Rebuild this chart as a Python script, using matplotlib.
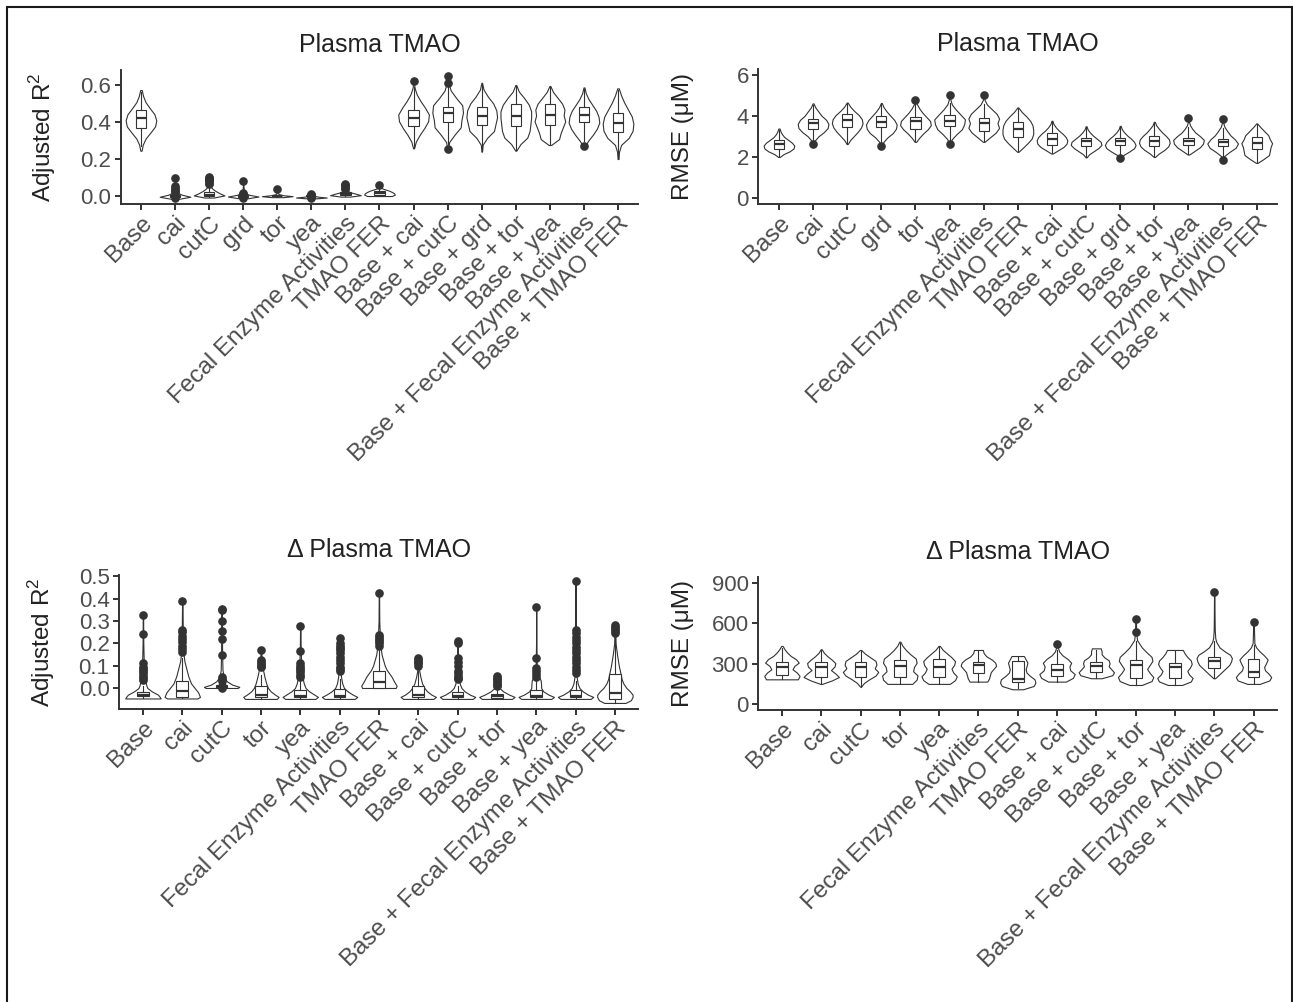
import numpy as np
import matplotlib
matplotlib.use("Agg")
import matplotlib.pyplot as plt
from matplotlib.patches import Rectangle

plt.rcParams['font.family'] = ['Liberation Sans', 'DejaVu Sans']
plt.rcParams['mathtext.fontset'] = 'custom'
plt.rcParams['mathtext.rm'] = 'Liberation Sans'

top_cats = ["Base", "cai", "cutC", "grd", "tor", "yea", "Fecal Enzyme Activities", "TMAO FER",
            "Base + cai", "Base + cutC", "Base + grd", "Base + tor", "Base + yea",
            "Base + Fecal Enzyme Activities", "Base + TMAO FER"]
bot_cats = ["Base", "cai", "cutC", "tor", "yea", "Fecal Enzyme Activities", "TMAO FER",
            "Base + cai", "Base + cutC", "Base + tor", "Base + yea",
            "Base + Fecal Enzyme Activities", "Base + TMAO FER"]

# box stats: (lower whisker, q1, median, q3, upper whisker)
# violins: ((min, max), density profile) or ([values], density profile)

# ---- Plasma TMAO, adjusted R2
tmao_r2_box = [
    (.27, .37, .42, .465, .56), (-.01, -.004, 0.0, .004, .012), (-.005, 0.0, .006, .022, .055),
    (-.008, -.003, 0.0, .003, .01), (-.004, -.002, 0.0, .002, .005), (-.005, -.002, 0.0, .002, .004),
    (0.0, .004, .01, .02, .035), (0.0, .006, .015, .027, .045), (.26, .378, .42, .465, .59),
    (.28, .398, .45, .483, .60), (.245, .384, .434, .483, .605), (.25, .38, .434, .495, .595),
    (.28, .384, .438, .495, .59), (.30, .40, .438, .483, .58), (.21, .348, .396, .447, .575)]
tmao_r2_violin = [
    ((.245, .573), [.04, .12, .3, .62, .92, 1.0, .88, .58, .3, .14, .05]),
    ((-.015, .096), [.25, 1.0, .45, .15, .07, .05, .04, .03, .02, .015, .01]),
    ((-.008, .105), [.3, 1.0, .7, .45, .25, .12, .06, .04, .03, .02, .01]),
    ((-.012, .081), [.3, 1.0, .4, .12, .06, .04, .03, .02, .015, .01, .01]),
    ((-.006, .036), [.4, 1.0, .4, .12, .05, .03, .02, .02, .015]),
    ((-.012, .012), [.4, 1.0, .5, .2, .08, .04, .02]),
    ((-.003, .065), [.3, 1.0, .7, .35, .15, .08, .05, .03, .02, .01]),
    ((0.0, .06), [.8, 1.0, .95, .8, .6, .3, .08, .03, .02]),
    ((.258, .623), [.03, .15, .4, .7, .95, 1.0, .75, .45, .2, .06, .02]),
    ((.252, .65), [.02, .1, .45, .85, .9, 1.0, .95, .55, .2, .06, .02]),
    ((.24, .612), [.02, .06, .35, .8, .9, 1.0, .95, .75, .4, .12, .02]),
    ((.245, .60), [.03, .3, .75, .9, .95, 1.0, 1.0, .85, .55, .2, .03]),
    ((.276, .595), [.08, .6, .7, .85, 1.0, .9, .95, .8, .5, .2, .03]),
    ((.27, .587), [.05, .3, .6, .85, 1.0, .95, .8, .55, .3, .12, .03]),
    ((.20, .582), [.03, .06, .2, .7, .95, 1.0, .9, .65, .4, .2, .05])]
tmao_r2_out = [
    [], [.096, .055, .045, .035, .025, .015, -.01], [.105, .099, .093, .087, .08, .073, .066],
    [.081, .015, .01, .005, -.01], [.036], [.012, .008, .004, -.007, -.01],
    [.065, .058, .052, .046, .04], [.06], [.623], [.65, .612, .252], [], [], [], [.27], []]

# ---- Plasma TMAO, RMSE
tmao_rmse_box = [
    (2.05, 2.41, 2.62, 2.82, 3.3), (2.8, 3.39, 3.64, 3.85, 4.55), (2.65, 3.47, 3.8, 4.08, 4.65),
    (2.75, 3.47, 3.72, 4.01, 4.6), (2.76, 3.39, 3.75, 3.96, 4.6), (2.85, 3.5, 3.77, 4.04, 4.65),
    (2.76, 3.28, 3.64, 3.93, 4.6), (2.3, 2.98, 3.36, 3.72, 4.4), (2.2, 2.58, 2.86, 3.15, 3.7),
    (2.0, 2.53, 2.77, 2.95, 3.45), (2.1, 2.58, 2.77, 2.95, 3.45), (2.02, 2.53, 2.79, 3.02, 3.65),
    (2.14, 2.58, 2.77, 2.95, 3.45), (2.05, 2.53, 2.74, 2.9, 3.4), (1.75, 2.37, 2.66, 2.98, 3.6)]
tmao_rmse_violin = [
    ((2.0, 3.39), [.05, .3, .7, .95, 1.0, .85, .6, .35, .2, .1, .04]),
    ((2.61, 4.62), [.03, .12, .35, .7, .95, 1.0, .85, .55, .35, .15, .03]),
    ((2.63, 4.66), [.03, .2, .45, .7, .9, 1.0, .95, .75, .45, .2, .03]),
    ((2.54, 4.64), [.02, .15, .4, .75, .95, 1.0, .85, .6, .35, .15, .03]),
    ((2.74, 4.78), [.05, .25, .5, .8, 1.0, .95, .7, .45, .25, .1, .02]),
    ((2.63, 5.05), [.02, .15, .45, .8, .95, 1.0, .7, .4, .15, .05, .02]),
    ((2.74, 5.02), [.05, .4, .75, .95, .85, .95, .8, .5, .2, .05, .02]),
    ((2.25, 4.42), [.04, .35, .65, .9, 1.0, 1.0, .95, .8, .55, .25, .03]),
    ((2.17, 3.77), [.05, .4, .75, .95, 1.0, .9, .7, .45, .25, .1, .03]),
    ((1.98, 3.5), [.03, .2, .5, .8, 1.0, .95, .7, .45, .25, .1, .03]),
    ((1.96, 3.52), [.02, .25, .6, .9, 1.0, .9, .7, .45, .25, .1, .03]),
    ((2.0, 3.72), [.04, .3, .65, .9, 1.0, .95, .75, .5, .3, .12, .03]),
    ((2.12, 3.91), [.05, .4, .75, .95, 1.0, .75, .45, .25, .1, .03, .02]),
    ((1.84, 3.88), [.02, .1, .45, .85, 1.0, .8, .5, .3, .12, .04, .02]),
    ((1.71, 3.64), [.05, .45, .8, .85, .9, 1.0, .85, .75, .5, .25, .03])]
tmao_rmse_out = [
    [], [2.61], [], [2.54], [4.78], [5.05, 2.63], [5.02], [], [], [], [1.96], [],
    [3.91], [3.88, 1.84], []]

# ---- Delta plasma TMAO, adjusted R2
delta_r2_box = [
    (-.047, -.038, -.03, -.018, .007), (-.047, -.042, -.015, .03, .135), (0.0, 0.0, .004, .012, .03),
    (-.049, -.042, -.03, .007, .06), (-.049, -.042, -.036, -.008, .03), (-.049, -.042, -.038, -.005, .04),
    (0.0, 0.0, .025, .075, .185), (-.049, -.042, -.03, .007, .075), (-.049, -.042, -.038, -.02, .01),
    (-.049, -.045, -.038, -.027, 0.0), (-.049, -.042, -.038, -.011, .03), (-.049, -.042, -.038, -.011, .03),
    (-.067, -.049, -.024, .063, .23)]
delta_r2_violin = [
    ([-.047, -.04, -.03, -.015, 0.0, .01, .04, .1, .2, .329], [1.0, .95, .85, .5, .25, .2, .1, .05, .02, .01]),
    ([-.047, -.04, -.02, 0.0, .02, .05, .08, .12, .16, .25, .388], [.85, 1.0, .9, .7, .5, .35, .25, .12, .06, .03, .01]),
    ([0.0, .005, .015, .03, .05, .08, .15, .25, .355], [.9, 1.0, .6, .3, .12, .05, .03, .02, .01]),
    ([-.049, -.04, -.03, -.015, 0.0, .02, .05, .08, .12, .172], [.9, 1.0, .8, .55, .4, .3, .2, .12, .05, .01]),
    ([-.049, -.04, -.03, -.015, 0.0, .02, .05, .1, .2, .276], [.85, 1.0, .8, .5, .3, .2, .12, .05, .02, .01]),
    ([-.049, -.04, -.03, -.015, 0.0, .02, .05, .1, .224], [.85, 1.0, .75, .45, .25, .15, .08, .04, .01]),
    ([0.0, .01, .03, .05, .08, .1, .15, .2, .3, .426], [.95, 1.0, .85, .72, .45, .33, .15, .07, .02, .01]),
    ([-.049, -.04, -.03, -.015, 0.0, .02, .05, .08, .134], [.85, 1.0, .75, .5, .35, .22, .12, .05, .01]),
    ([-.049, -.04, -.03, -.015, 0.0, .02, .05, .1, .209], [.85, 1.0, .7, .4, .22, .12, .06, .03, .01]),
    ([-.049, -.04, -.03, -.015, 0.0, .02, .052], [.85, 1.0, .7, .35, .15, .06, .02]),
    ([-.049, -.04, -.03, -.015, 0.0, .02, .035, .06, .1, .2, .363], [.85, 1.0, .7, .4, .28, .27, .25, .08, .03, .01, .01]),
    ([-.049, -.04, -.03, -.015, 0.0, .02, .05, .1, .2, .478], [.85, 1.0, .7, .4, .22, .12, .06, .03, .015, .01]),
    ([-.067, -.055, -.04, -.03, -.015, 0.0, .02, .04, .06, .1, .15, .2, .284],
     [.6, .9, 1.0, 1.0, .85, .65, .48, .38, .33, .22, .12, .04, .01])]
delta_r2_out = [
    [.329, .243, .112, .095, .085, .075, .065, .055, .045, .037],
    [.388, .26, .25, .235, .22, .205, .19, .175, .16],
    [.355, .35, .299, .254, .221, .146, .05, .04, .03, .01, 0.0],
    [.172, .125, .115, .108, .1, .092],
    [.276, .164, .112, .1, .09, .08, .07, .06, .05],
    [.224, .203, .19, .18, .17, .155, .14, .125, .11, .095, .085, .075],
    [.426, .239, .23, .22, .21, .2, .19],
    [.134, .125, .118, .11, .1],
    [.209, .2, .134, .115, .097, .075, .065, .055, .045, .038],
    [.052, .045, .038, .03, .022, .015, .008],
    [.363, .134, .09, .075, .063, .05],
    [.478, .261, .245, .23, .215, .2, .185, .17, .155, .14, .125, .11, .095, .08, .067],
    [.284, .275, .265, .255, .245]]

# ---- Delta plasma TMAO, RMSE
delta_rmse_box = [
    (183, 215, 277, 314, 413), (149, 203, 277, 314, 400), (129, 198, 277, 314, 395),
    (149, 203, 282, 327, 455), (149, 198, 277, 332, 425), (166, 228, 290, 314, 395),
    (117, 166, 183, 322, 356), (166, 208, 252, 297, 400), (191, 240, 282, 314, 400),
    (141, 191, 290, 327, 470), (141, 191, 272, 307, 395), (191, 265, 322, 351, 470),
    (149, 203, 240, 334, 440)]
delta_rmse_violin = [
    ((183, 431), [.9, 1.0, .85, .6, .7, .95, .8, .5, .3, .15, .04]),
    ((149, 406), [.05, .6, 1.0, .8, .55, .75, .8, .6, .35, .15, .03]),
    ((129, 401), [.03, .2, .5, .85, 1.0, .8, .9, .85, .55, .25, .04]),
    ((149, 463), [.7, .95, 1.0, .75, .8, .95, .9, .6, .35, .15, .03]),
    ((149, 431), [.6, .9, 1.0, .8, .7, .85, .9, .7, .45, .2, .04]),
    ((166, 401), [.5, .6, .65, .7, .85, 1.0, .95, .75, .45, .3, .25]),
    ((109, 356), [.3, .9, 1.0, .95, .7, .5, .45, .5, .55, .45, .35]),
    ((166, 446), [.5, .9, 1.0, .75, .7, .8, .6, .3, .12, .05, .02]),
    ((191, 413), [.3, .9, 1.0, .85, .7, .75, .7, .45, .3, .3, .25]),
    ([141, 170, 200, 230, 260, 290, 320, 350, 380, 420, 475, 537, 629],
     [.35, .9, 1.0, .8, .65, .8, .95, .9, .65, .35, .08, .03, .02]),
    ((141, 401), [.4, .9, 1.0, .8, .7, .85, .95, .9, .7, .55, .45]),
    ([191, 215, 240, 265, 290, 315, 340, 365, 390, 420, 460, 488, 550, 650, 829],
     [.05, .25, .45, .65, .85, .95, 1.0, .9, .6, .3, .12, .06, .03, .02, .01]),
    ([149, 175, 200, 225, 250, 275, 300, 330, 360, 390, 420, 451, 530, 611],
     [.35, .9, 1.0, .85, .65, .6, .7, .8, .6, .35, .15, .05, .03, .02])]
delta_rmse_out = [[], [], [], [], [], [], [], [446], [], [629, 537], [], [829], [611]]

INK = '#333333'


def violin_stats(spec):
    ys, ws = spec
    if len(ys) == 2 and len(ws) != 2:
        ys = np.linspace(ys[0], ys[1], len(ws))
    ys = np.asarray(ys, float)
    ws = np.asarray(ws, float)
    return dict(coords=ys, vals=ws, mean=ys.mean(), median=np.median(ys), min=ys[0], max=ys[-1])


def draw_panel(ax, cats, boxes, violins, outs, title, ylabel, yticks, ylim, fmt, label_x):
    pos = np.arange(len(cats))
    parts = ax.violin([violin_stats(v) for v in violins], positions=pos, widths=0.9,
                      showextrema=False)
    for b in parts['bodies']:
        b.set_facecolor('white')
        b.set_edgecolor(INK)
        b.set_linewidth(0.8)
        b.set_alpha(1)
    stats = [dict(whislo=b[0], q1=b[1], med=b[2], q3=b[3], whishi=b[4], fliers=o)
             for b, o in zip(boxes, outs)]
    ax.bxp(stats, positions=pos, widths=0.3, patch_artist=True, showcaps=False,
           manage_ticks=False,
           boxprops=dict(facecolor='white', edgecolor=INK, linewidth=0.8),
           medianprops=dict(color=INK, linewidth=1.6),
           whiskerprops=dict(color=INK, linewidth=0.8),
           flierprops=dict(marker='o', markerfacecolor=INK, markeredgecolor=INK,
                           markersize=5.2))
    ax.set_xlim(-0.6, len(cats) - 0.4)
    ax.set_ylim(*ylim)
    ax.set_xticks(pos, cats, rotation=45, ha='right', rotation_mode='anchor')
    ax.set_yticks(yticks, [fmt.format(t) for t in yticks])
    for s in ['top', 'right']:
        ax.spines[s].set_visible(False)
    for s in ['left', 'bottom']:
        ax.spines[s].set_color(INK)
        ax.spines[s].set_linewidth(1.4)
    ax.tick_params(direction='out', length=4, width=1.4, color=INK,
                   labelcolor='#4d4d4d', pad=2)
    ax.tick_params(axis='x', labelsize=17.5)
    ax.tick_params(axis='y', labelsize=16, pad=3)
    ax.set_title(title, fontsize=18, color='#222222', pad=13)
    ax.set_ylabel(ylabel, fontsize=17.5, color='#222222')
    ax.yaxis.set_label_coords(label_x, 0.5)


fig = plt.figure(figsize=(12.93, 10.02), dpi=100)
ax1 = fig.add_axes([0.0932, 0.7964, 0.4006, 0.1337])
ax2 = fig.add_axes([0.5866, 0.7964, 0.4012, 0.1347])
ax3 = fig.add_axes([0.0923, 0.2929, 0.4015, 0.1332])
ax4 = fig.add_axes([0.5865, 0.2914, 0.4012, 0.1330])

r2_label = r'Adjusted R$^\mathregular{2}$'
draw_panel(ax1, top_cats, tmao_r2_box, tmao_r2_violin, tmao_r2_out, 'Plasma TMAO',
           r2_label, [0, 0.2, 0.4, 0.6], (-0.043, 0.681), '{:.1f}', -0.12)
draw_panel(ax2, top_cats, tmao_rmse_box, tmao_rmse_violin, tmao_rmse_out, 'Plasma TMAO',
           'RMSE (μM)', [0, 2, 4, 6], (-0.3, 6.3), '{:.0f}', -0.125)
draw_panel(ax3, bot_cats, delta_r2_box, delta_r2_violin, delta_r2_out, 'Δ Plasma TMAO',
           r2_label, [0, 0.1, 0.2, 0.3, 0.4, 0.5], (-0.092, 0.506), '{:.1f}', -0.12)
draw_panel(ax4, bot_cats, delta_rmse_box, delta_rmse_violin, delta_rmse_out, 'Δ Plasma TMAO',
           'RMSE (μM)', [0, 300, 600, 900], (-45, 945), '{:.0f}', -0.125)

fig.patches.append(Rectangle((7 / 1293, -0.01), 1285 / 1293, (995 / 1002) + 0.01,
                             transform=fig.transFigure, fill=False, edgecolor='#1a1a1a',
                             linewidth=1.5))

fig.savefig('out.png', dpi=100)
